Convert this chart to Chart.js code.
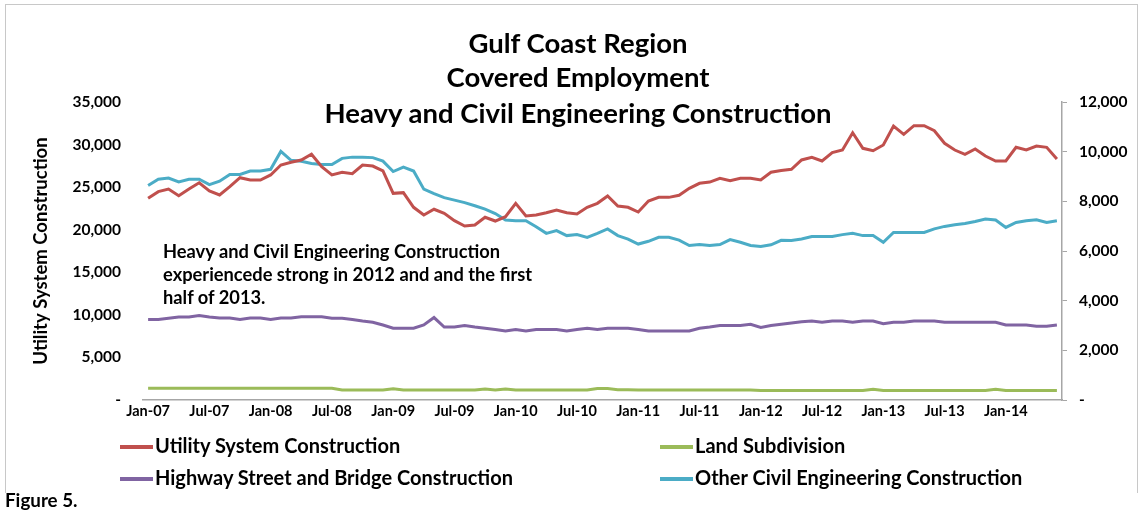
<!DOCTYPE html>
<html>
<head>
<meta charset="utf-8">
<script src="https://cdn.jsdelivr.net/npm/chart.js@4/dist/chart.umd.min.js"></script>
<style>
  body { margin: 0; background: #fff; }
  #wrap { position: relative; width: 1143px; height: 512px; font-family: Lato, "Open Sans", sans-serif; font-weight: bold; color: #000; }
  #frame { position: absolute; left: 5px; top: 4px; width: 1131px; height: 488px; border: 1px solid #c8c8c8; border-bottom: none; }
  #myChart { position: absolute; left: 0; top: 0; }
  .title { position: absolute; left: 0; width: 1156px; text-align: center; font-size: 27.5px; line-height: 32px; }
  #note { position: absolute; left: 163px; top: 240px; font-size: 18.3px; line-height: 23px; }
  .leg { position: absolute; font-size: 20px; line-height: 22px; white-space: nowrap; }
  .leg span { display: inline-block; width: 33px; height: 4px; vertical-align: middle; margin-right: 2px; position: relative; top: -1px; }
  #fig { position: absolute; left: 5px; top: 488px; font-size: 18.8px; line-height: 24px; }
</style>
</head>
<body>
<div id="wrap">
  <div id="frame"></div>
  <canvas id="myChart" width="1143" height="512"></canvas>
  <div class="title" style="top:27px">Gulf Coast Region</div>
  <div class="title" style="top:61px">Covered Employment</div>
  <div class="title" style="top:97px">Heavy and Civil Engineering Construction</div>
  <div id="note">Heavy and Civil Engineering Construction<br>experiencede strong in 2012 and and the first<br>half of 2013.</div>
  <div id="legend"></div>
  <div id="fig">Figure 5.</div>
</div>
<script>
const months = [
  "Jan-07","Feb-07","Mar-07","Apr-07","May-07","Jun-07","Jul-07","Aug-07","Sep-07","Oct-07","Nov-07","Dec-07",
  "Jan-08","Feb-08","Mar-08","Apr-08","May-08","Jun-08","Jul-08","Aug-08","Sep-08","Oct-08","Nov-08","Dec-08",
  "Jan-09","Feb-09","Mar-09","Apr-09","May-09","Jun-09","Jul-09","Aug-09","Sep-09","Oct-09","Nov-09","Dec-09",
  "Jan-10","Feb-10","Mar-10","Apr-10","May-10","Jun-10","Jul-10","Aug-10","Sep-10","Oct-10","Nov-10","Dec-10",
  "Jan-11","Feb-11","Mar-11","Apr-11","May-11","Jun-11","Jul-11","Aug-11","Sep-11","Oct-11","Nov-11","Dec-11",
  "Jan-12","Feb-12","Mar-12","Apr-12","May-12","Jun-12","Jul-12","Aug-12","Sep-12","Oct-12","Nov-12","Dec-12",
  "Jan-13","Feb-13","Mar-13","Apr-13","May-13","Jun-13","Jul-13","Aug-13","Sep-13","Oct-13","Nov-13","Dec-13",
  "Jan-14","Feb-14","Mar-14","Apr-14","May-14","Jun-14"
];

// left axis
const utility = [
  23690, 24470, 24780, 24000, 24780, 25520, 24550, 24080, 25050, 26110, 25840, 25840,
  26430, 27600, 27920, 28190, 28860, 27400, 26430, 26740, 26580, 27600, 27480, 26900,
  24270, 24350, 22630, 21730, 22400, 21920, 21060, 20440, 20550, 21460, 21020, 21530,
  23100, 21610, 21730, 22000, 22320, 22000, 21850, 22630, 23100, 23960, 22790, 22630,
  22080, 23370, 23800, 23800, 24040, 24860, 25450, 25600, 26040, 25760, 26040, 26040,
  25840, 26750, 26950, 27100, 28190, 28500, 28070, 29050, 29360, 31390, 29560, 29280,
  29950, 32180, 31200, 32220, 32220, 31630, 30150, 29360, 28860, 29480, 28660, 28070,
  28070, 29680, 29360, 29830, 29680, 28310
];

// right axis
const landSub = [
  470, 470, 470, 470, 470, 470, 470, 470, 470, 470, 470, 470,
  470, 470, 470, 470, 470, 470, 470, 400, 400, 400, 400, 400,
  450, 400, 400, 400, 400, 400, 400, 400, 400, 440, 400, 440,
  400, 400, 400, 400, 400, 400, 400, 400, 460, 460, 410, 410,
  400, 400, 400, 400, 400, 400, 400, 400, 400, 400, 400, 400,
  380, 380, 380, 380, 380, 380, 380, 380, 380, 380, 380, 430,
  380, 380, 380, 380, 380, 380, 380, 380, 380, 380, 380, 430,
  380, 380, 380, 380, 380, 380
];

const highway = [
  3240, 3240, 3290, 3340, 3340, 3400, 3340, 3300, 3300, 3240, 3300, 3300,
  3240, 3300, 3300, 3350, 3350, 3350, 3290, 3290, 3240, 3180, 3130, 3020,
  2890, 2890, 2890, 3020, 3320, 2940, 2940, 3000, 2940, 2890, 2840, 2780,
  2840, 2780, 2840, 2840, 2840, 2780, 2840, 2890, 2840, 2890, 2890, 2890,
  2840, 2780, 2780, 2780, 2780, 2780, 2890, 2940, 3000, 3000, 3000, 3050,
  2920, 3000, 3050, 3100, 3150, 3180, 3130, 3180, 3180, 3130, 3180, 3180,
  3070, 3130, 3130, 3180, 3180, 3180, 3130, 3130, 3130, 3130, 3130, 3130,
  3020, 3020, 3020, 2970, 2970, 3020
];

const otherCivil = [
  8640, 8890, 8940, 8780, 8890, 8890, 8670, 8810, 9080, 9080, 9220, 9220,
  9290, 10010, 9650, 9610, 9520, 9480, 9480, 9730, 9780, 9780, 9760, 9620,
  9200, 9380, 9220, 8490, 8310, 8150, 8050, 7950, 7820, 7690, 7510, 7250,
  7220, 7220, 6980, 6710, 6820, 6620, 6660, 6550, 6710, 6890, 6620, 6480,
  6280, 6390, 6550, 6550, 6440, 6220, 6260, 6220, 6260, 6460, 6350, 6220,
  6180, 6250, 6430, 6420, 6480, 6580, 6580, 6580, 6660, 6710, 6620, 6620,
  6350, 6750, 6750, 6750, 6750, 6890, 6990, 7060, 7110, 7190, 7290, 7250,
  6950, 7150, 7220, 7260, 7150, 7220
];

const seriesNames = ["Utility System Construction", "Land Subdivision", "Highway Street and Bridge Construction", "Other Civil Engineering Construction"];
const seriesColors = ["#C0504D", "#9BBB59", "#8064A2", "#4BACC6"];

const FONT = 'Lato, "Open Sans", sans-serif';

function fmt(v) {
  return v === 0 ? "-" : v.toLocaleString("en-US");
}

function line(i, data, axis) {
  return {
    label: seriesNames[i],
    data: data,
    yAxisID: axis,
    borderColor: seriesColors[i],
    backgroundColor: seriesColors[i],
    borderWidth: 3,
    pointRadius: 0,
    tension: 0,
    fill: false
  };
}

const chart = new Chart("myChart", {
  type: "line",
  data: {
    labels: months,
    datasets: [
      line(0, utility, "y"),
      line(1, landSub, "y1"),
      line(2, highway, "y1"),
      line(3, otherCivil, "y1")
    ]
  },
  options: {
    responsive: false,
    animation: false,
    layout: { padding: { top: 102, right: 0, bottom: 0, left: 0 } },
    plugins: {
      legend: { display: false },
      tooltip: { enabled: false }
    },
    scales: {
      x: {
        offset: true,
        grid: { display: false, drawTicks: false },
        border: { display: true, color: "#a6a6a6", width: 1.5 },
        ticks: {
          autoSkip: false,
          maxRotation: 0,
          padding: 3,
          color: "#000",
          font: { family: FONT, size: 14.5, weight: "bold" },
          callback: function (value, index) {
            return index % 6 === 0 ? months[index] : "";
          }
        },
        afterFit: function (s) { s.height = 112; }
      },
      y: {
        position: "left",
        min: 0,
        max: 35000,
        grid: { display: false, drawTicks: false },
        border: { display: false },
        ticks: {
          stepSize: 5000,
          padding: 22,
          color: "#000",
          font: { family: FONT, size: 15.5, weight: "bold" },
          callback: fmt
        },
        title: {
          display: true,
          text: "Utility System Construction",
          color: "#000",
          padding: { top: 30, bottom: 0 },
          font: { family: FONT, size: 18.5, weight: "bold" }
        },
        afterFit: function (s) { s.width = 143; }
      },
      y1: {
        position: "right",
        min: 0,
        max: 12000,
        grid: { drawOnChartArea: false, drawTicks: true, tickLength: 5, color: "#a6a6a6" },
        border: { display: true, color: "#a6a6a6", width: 1.5 },
        ticks: {
          stepSize: 2000,
          padding: 12,
          color: "#000",
          font: { family: FONT, size: 15.5, weight: "bold" },
          callback: fmt
        },
        afterFit: function (s) { s.width = 81; }
      }
    }
  }
});

// legend in two columns, built from the chart's datasets
const legendPos = [[120, 434], [660, 434], [120, 466], [660, 466]];
const legendBox = document.getElementById("legend");
chart.data.datasets.forEach(function (ds, i) {
  const d = document.createElement("div");
  d.className = "leg";
  d.style.left = legendPos[i][0] + "px";
  d.style.top = legendPos[i][1] + "px";
  d.innerHTML = '<span style="background:' + ds.borderColor + '"></span>' + ds.label;
  legendBox.appendChild(d);
});
</script>
</body>
</html>
